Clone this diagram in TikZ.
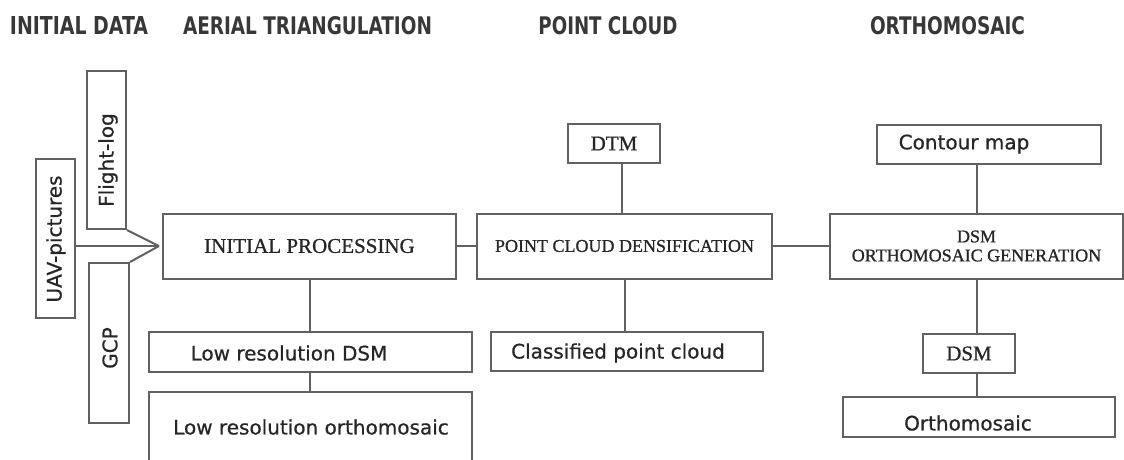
\documentclass[tikz,border=0pt]{standalone}
\usepackage{fontspec}
\usepackage{graphicx}
\setmainfont{Liberation Serif}
\newfontfamily\boxsans[FakeBold=0.7]{DejaVu Sans}
\newfontfamily\boxserif[FakeBold=0.9]{Liberation Serif}
\newfontfamily\headsans{DejaVu Sans Condensed Bold}
\usetikzlibrary{calc}
% heading text squeezed to a given width, caps 18pt tall
\newcommand\hdtext[2]{\resizebox{#1}{18pt}{\headsans #2}}
\begin{document}
\begin{tikzpicture}[x=1pt,y=-1pt,
  box/.style={draw=black!62, line width=2pt, inner sep=0pt, text=black!85},
  link/.style={draw=black!62, line width=2pt},
  sanslbl/.style={font=\boxsans\fontsize{20}{24}\selectfont, inner sep=0pt, text=black!85},
  seriflbl/.style={font=\boxserif\fontsize{21}{24}\selectfont, inner sep=0pt, text=black!85},
  smallserif/.style={font=\boxserif\fontsize{18}{21}\selectfont, inner sep=0pt, text=black!85, align=center},
  head/.style={inner sep=0pt, text=black!78}]
\useasboundingbox (0,0) rectangle (1124,459);

% column headings
\node[head] (h1) at (79,25.5) {\hdtext{138pt}{INITIAL DATA}};
\node[head] (h2) at (307.5,25.5) {\hdtext{249pt}{AERIAL TRIANGULATION}};
\node[head] (h3) at (608,25.5) {\hdtext{139pt}{POINT CLOUD}};
\node[head] (h4) at (947.5,25.5) {\hdtext{155pt}{ORTHOMOSAIC}};

% initial data
\node[box, minimum width=39, minimum height=159] (uav) at (55.5,238.5) {};
\node[sanslbl, rotate=90] (uavt) at (56,239) {UAV-pictures};
\node[box, minimum width=39, minimum height=158] (flight) at (106.5,150) {};
\node[sanslbl, rotate=90] (flightt) at (108,160) {Flight-log};
\node[box, minimum width=40, minimum height=160] (gcp) at (109,343) {};
\node[sanslbl, rotate=90] (gcpt) at (110,348) {GCP};

% aerial triangulation
\node[box, minimum width=293, minimum height=65, seriflbl] (ip) at (309.5,246) {INITIAL PROCESSING};
\node[box, minimum width=323, minimum height=40] (lrdsm) at (310.5,352) {};
\node[sanslbl] (lrdsmt) at (289,353) {Low resolution DSM};
\node[box, minimum width=323, minimum height=88] (lrortho) at (310.5,436) {};
\node[sanslbl] (lrorthot) at (311,427) {Low resolution orthomosaic};

% point cloud
\node[box, minimum width=92, minimum height=39, seriflbl] (dtm) at (614,143.5) {DTM};
\node[box, minimum width=295, minimum height=65, smallserif] (pcd) at (624.5,246) {POINT CLOUD DENSIFICATION};
\node[box, minimum width=272, minimum height=39] (cpc) at (627,351.5) {};
\node[sanslbl] (cpct) at (618,353) {Classified point cloud};

% orthomosaic
\node[box, minimum width=224, minimum height=39] (contour) at (989,144.5) {};
\node[sanslbl] (contourt) at (964,144) {Contour map};
\node[box, minimum width=293, minimum height=65, smallserif] (gen) at (976.5,246) {DSM\\[-2pt]ORTHOMOSAIC GENERATION};
\node[box, minimum width=92, minimum height=39, seriflbl] (dsm) at (969,353.5) {DSM};
\node[box, minimum width=272, minimum height=40] (ortho) at (979,417) {};
\node[sanslbl] (orthot) at (968,423) {Orthomosaic};

% inputs merging into the first step
\coordinate (tip) at ([xshift=-3]ip.west);
\draw[link] (uav.east |- tip) -- (tip);
\draw[link] (flight.south east) -- (tip);
\draw[link] (gcp.north east) -- (tip);

% process chain
\draw[link] (ip.east) -- (pcd.west);
\draw[link] (pcd.east) -- (gen.west);
\draw[link] (ip.south) -- (ip.south |- lrdsm.north);
\draw[link] (ip.south |- lrdsm.south) -- (ip.south |- lrortho.north);
\draw[link] ([xshift=8]dtm.south) -- ([xshift=8]dtm.south |- pcd.north);
\draw[link] (pcd.south) -- (pcd.south |- cpc.north);
\draw[link] (gen.north) -- (gen.north |- contour.south);
\draw[link] (gen.south) -- (gen.south |- dsm.north);
\draw[link] (gen.south |- dsm.south) -- (gen.south |- ortho.north);
\end{tikzpicture}
\end{document}
